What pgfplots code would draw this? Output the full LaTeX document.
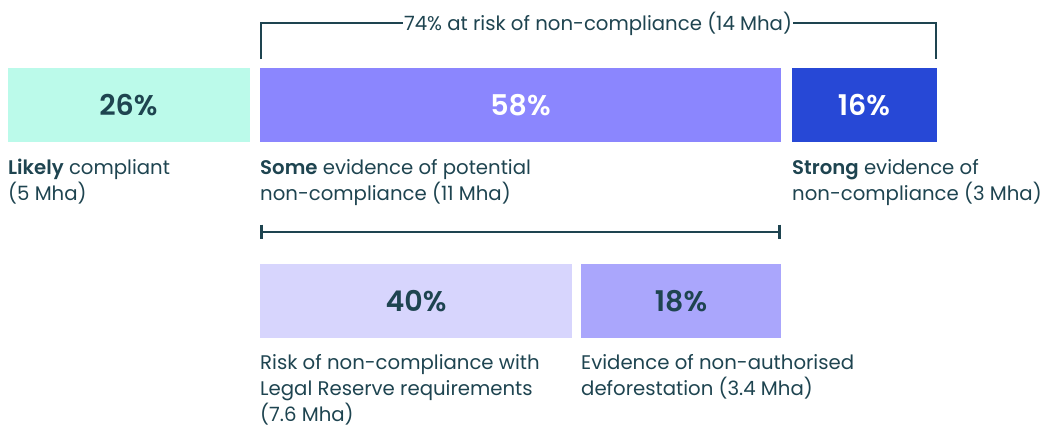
\documentclass[border=0pt]{standalone}
\usepackage{pgfplots}
\pgfplotsset{compat=1.18}
\usepackage{fontspec}
\setmainfont{Poppins}[BoldFont={Poppins SemiBold}]
\definecolor{mint}{RGB}{187,250,234}
\definecolor{violet}{RGB}{139,134,254}
\definecolor{deepblue}{RGB}{39,72,214}
\definecolor{lilac}{RGB}{215,213,253}
\definecolor{lavender}{RGB}{170,166,252}
\definecolor{ink}{RGB}{30,68,80}
\newcommand{\lbl}{\fontsize{19.7}{26}\selectfont}
\newcommand{\pct}{\fontsize{28.5}{30}\selectfont\bfseries}
\begin{document}
\begin{tikzpicture}
\begin{axis}[
  scale only axis, width=1041pt, height=426pt,
  xmin=0, xmax=1041, ymin=0, ymax=426, y dir=reverse,
  hide axis, clip=false,
]
% top row bars (pixel extents)
\addplot[fill=mint, draw=none] coordinates {(8,68) (249.5,68) (249.5,141.5) (8,141.5)} --cycle;
\addplot[fill=violet, draw=none] coordinates {(260,68) (781,68) (781,141.5) (260,141.5)} --cycle;
\addplot[fill=deepblue, draw=none] coordinates {(791.5,68) (936.5,68) (936.5,141.5) (791.5,141.5)} --cycle;
% bottom row bars
\addplot[fill=lilac, draw=none] coordinates {(260,264) (572,264) (572,337.5) (260,337.5)} --cycle;
\addplot[fill=lavender, draw=none] coordinates {(581,264) (781,264) (781,337.5) (581,337.5)} --cycle;

% percent labels
\node[anchor=base, text=ink, font=\pct] at (axis cs:128.5,115) {26\%};
\node[anchor=base, text=white, font=\pct] at (axis cs:520.5,115) {58\%};
\node[anchor=base, text=white, font=\pct] at (axis cs:864,115) {16\%};
\node[anchor=base, text=ink, font=\pct] at (axis cs:416,311) {40\%};
\node[anchor=base, text=ink, font=\pct] at (axis cs:681,311) {18\%};

% bracket on top
\draw[ink, line width=2pt] (axis cs:261,59) -- (axis cs:261,22.7) -- (axis cs:936,22.7) -- (axis cs:936,59);
\node[anchor=base, fill=white, inner xsep=1pt, inner ysep=2pt, text=ink, font=\lbl] at (axis cs:598,30) {74\% at risk of non-compliance (14 Mha)};

% range line
\draw[ink, line width=2pt] (axis cs:261.7,231.7) -- (axis cs:779.3,231.7);
\draw[ink, line width=2.5pt] (axis cs:261.7,224.7) -- (axis cs:261.7,239);
\draw[ink, line width=2.5pt] (axis cs:779.3,224.7) -- (axis cs:779.3,239);

% category labels
\node[anchor=base west, inner sep=0pt, text=ink, font=\lbl] at (axis cs:8,174) {\textbf{Likely} compliant};
\node[anchor=base west, inner sep=0pt, text=ink, font=\lbl] at (axis cs:8,200) {(5 Mha)};
\node[anchor=base west, inner sep=0pt, text=ink, font=\lbl] at (axis cs:260,174) {\textbf{Some} evidence of potential};
\node[anchor=base west, inner sep=0pt, text=ink, font=\lbl] at (axis cs:260,200) {non-compliance (11 Mha)};
\node[anchor=base west, inner sep=0pt, text=ink, font=\lbl] at (axis cs:792,174) {\textbf{Strong} evidence of};
\node[anchor=base west, inner sep=0pt, text=ink, font=\lbl] at (axis cs:792,200) {non-compliance (3 Mha)};
\node[anchor=base west, inner sep=0pt, text=ink, font=\lbl] at (axis cs:260,369) {Risk of non-compliance with};
\node[anchor=base west, inner sep=0pt, text=ink, font=\lbl] at (axis cs:260,395) {Legal Reserve requirements};
\node[anchor=base west, inner sep=0pt, text=ink, font=\lbl] at (axis cs:260,421) {(7.6 Mha)};
\node[anchor=base west, inner sep=0pt, text=ink, font=\lbl] at (axis cs:581,369) {Evidence of non-authorised};
\node[anchor=base west, inner sep=0pt, text=ink, font=\lbl] at (axis cs:581,395) {deforestation (3.4 Mha)};
\end{axis}
\pgfresetboundingbox
\path (0,0) rectangle (1041pt,426pt);
\end{tikzpicture}
\end{document}
